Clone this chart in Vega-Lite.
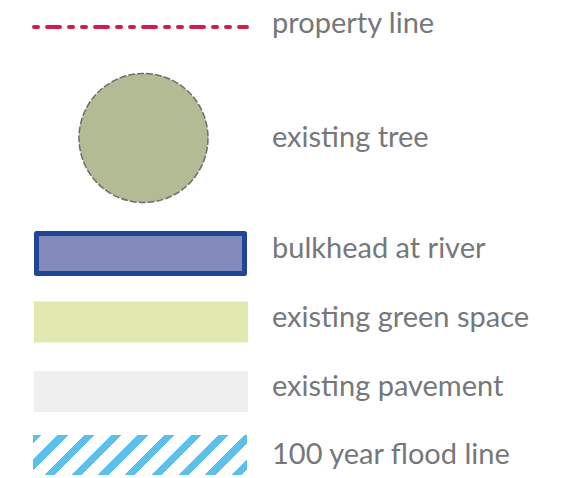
{
  "$schema": "https://vega.github.io/schema/vega-lite/v6.json",
  "width": 569,
  "height": 478,
  "padding": 0,
  "autosize": {"type": "fit", "contains": "padding"},
  "background": "white",
  "config": {"view": {"stroke": null}},
  "datasets": {
    "items": [
      {"order": 0, "label": "property line"},
      {"order": 1, "label": "existing tree"},
      {"order": 2, "label": "bulkhead at river"},
      {"order": 3, "label": "existing green space"},
      {"order": 4, "label": "existing pavement"},
      {"order": 5, "label": "100 year flood line"}
    ]
  },
  "data": {"name": "items"},
  "resolve": {"scale": {"y": "independent"}},
  "layer": [
    {
      "transform": [{"filter": "datum.order == 0"}],
      "mark": {"type": "rule", "stroke": "#d31f48", "strokeWidth": 4, "strokeDash": [4, 9, 13, 9, 4, 9], "strokeCap": "round"},
      "encoding": {
        "x": {"datum": 0.0047, "type": "quantitative", "scale": {"domain": [0, 1], "range": [33, 248], "zero": false, "nice": false}, "axis": null},
        "x2": {"datum": 0.9953},
        "y": {"field": "order", "type": "quantitative", "scale": {"domain": [0, 1, 2, 3, 4, 5], "range": [27, 138, 253.5, 322, 391.5, 455], "zero": false, "nice": false}, "axis": null}
      }
    },
    {
      "transform": [{"filter": "datum.order == 1"}],
      "mark": {"type": "point", "shape": "circle", "size": 16641, "filled": true, "opacity": 1, "fill": "#b3bb94", "stroke": "#6d6d6d", "strokeWidth": 1.5, "strokeDash": [7, 2]},
      "encoding": {
        "x": {"datum": 0.514, "type": "quantitative", "scale": {"domain": [0, 1], "range": [33, 248], "zero": false, "nice": false}, "axis": null},
        "y": {"field": "order", "type": "quantitative", "scale": {"domain": [0, 1, 2, 3, 4, 5], "range": [27, 138, 253.5, 322, 391.5, 455], "zero": false, "nice": false}, "axis": null}
      }
    },
    {
      "transform": [{"filter": "datum.order == 2"}],
      "mark": {"type": "point", "shape": "M-1,-0.1923L1,-0.1923L1,0.1923L-1,0.1923Z", "size": 43264, "filled": true, "opacity": 1, "fill": "#8489bb", "stroke": "#1f4597", "strokeWidth": 5, "strokeJoin": "round"},
      "encoding": {
        "x": {"datum": 0.5, "type": "quantitative", "scale": {"domain": [0, 1], "range": [33, 248], "zero": false, "nice": false}, "axis": null},
        "y": {"field": "order", "type": "quantitative", "scale": {"domain": [0, 1, 2, 3, 4, 5], "range": [27, 138, 253.5, 322, 391.5, 455], "zero": false, "nice": false}, "axis": null}
      }
    },
    {
      "transform": [{"filter": "datum.order == 3"}],
      "mark": {"type": "point", "shape": "M-1,-0.1916L1,-0.1916L1,0.1916L-1,0.1916Z", "size": 45796, "filled": true, "opacity": 1, "fill": "#e1e9b0", "strokeWidth": 0},
      "encoding": {
        "x": {"datum": 0.5023, "type": "quantitative", "scale": {"domain": [0, 1], "range": [33, 248], "zero": false, "nice": false}, "axis": null},
        "y": {"field": "order", "type": "quantitative", "scale": {"domain": [0, 1, 2, 3, 4, 5], "range": [27, 138, 253.5, 322, 391.5, 455], "zero": false, "nice": false}, "axis": null}
      }
    },
    {
      "transform": [{"filter": "datum.order == 4"}],
      "mark": {"type": "point", "shape": "M-1,-0.1916L1,-0.1916L1,0.1916L-1,0.1916Z", "size": 45796, "filled": true, "opacity": 1, "fill": "#efefef", "strokeWidth": 0},
      "encoding": {
        "x": {"datum": 0.5023, "type": "quantitative", "scale": {"domain": [0, 1], "range": [33, 248], "zero": false, "nice": false}, "axis": null},
        "y": {"field": "order", "type": "quantitative", "scale": {"domain": [0, 1, 2, 3, 4, 5], "range": [27, 138, 253.5, 322, 391.5, 455], "zero": false, "nice": false}, "axis": null}
      }
    },
    {
      "transform": [{"filter": "datum.order == 5"}],
      "mark": {
        "type": "point",
        "shape": "M-1,-0.1869L1,-0.1869L1,0.1869L-1,0.1869Z",
        "size": 45796,
        "filled": true,
        "opacity": 1,
        "strokeWidth": 0,
        "fill": {
          "gradient": "linear",
          "x1": 0, "y1": 0, "x2": 1.147, "y2": 0.2144,
          "stops": [
            {"offset": 0, "color": "#5bc0eb"},
            {"offset": 0.033, "color": "#5bc0eb"},
            {"offset": 0.033, "color": "#ffffff"},
            {"offset": 0.098, "color": "#ffffff"},
            {"offset": 0.098, "color": "#5bc0eb"},
            {"offset": 0.138, "color": "#5bc0eb"},
            {"offset": 0.138, "color": "#ffffff"},
            {"offset": 0.2035, "color": "#ffffff"},
            {"offset": 0.2035, "color": "#5bc0eb"},
            {"offset": 0.243, "color": "#5bc0eb"},
            {"offset": 0.243, "color": "#ffffff"},
            {"offset": 0.309, "color": "#ffffff"},
            {"offset": 0.309, "color": "#5bc0eb"},
            {"offset": 0.348, "color": "#5bc0eb"},
            {"offset": 0.348, "color": "#ffffff"},
            {"offset": 0.413, "color": "#ffffff"},
            {"offset": 0.413, "color": "#5bc0eb"},
            {"offset": 0.453, "color": "#5bc0eb"},
            {"offset": 0.453, "color": "#ffffff"},
            {"offset": 0.519, "color": "#ffffff"},
            {"offset": 0.519, "color": "#5bc0eb"},
            {"offset": 0.558, "color": "#5bc0eb"},
            {"offset": 0.558, "color": "#ffffff"},
            {"offset": 0.624, "color": "#ffffff"},
            {"offset": 0.624, "color": "#5bc0eb"},
            {"offset": 0.663, "color": "#5bc0eb"},
            {"offset": 0.663, "color": "#ffffff"},
            {"offset": 0.729, "color": "#ffffff"},
            {"offset": 0.729, "color": "#5bc0eb"},
            {"offset": 0.769, "color": "#5bc0eb"},
            {"offset": 0.769, "color": "#ffffff"},
            {"offset": 0.834, "color": "#ffffff"},
            {"offset": 0.834, "color": "#5bc0eb"},
            {"offset": 0.874, "color": "#5bc0eb"},
            {"offset": 0.874, "color": "#ffffff"},
            {"offset": 0.939, "color": "#ffffff"},
            {"offset": 0.939, "color": "#5bc0eb"},
            {"offset": 0.979, "color": "#5bc0eb"},
            {"offset": 0.979, "color": "#ffffff"},
            {"offset": 1, "color": "#ffffff"}
          ]
        }
      },
      "encoding": {
        "x": {"datum": 0.4977, "type": "quantitative", "scale": {"domain": [0, 1], "range": [33, 248], "zero": false, "nice": false}, "axis": null},
        "y": {"field": "order", "type": "quantitative", "scale": {"domain": [0, 1, 2, 3, 4, 5], "range": [27, 138, 253.5, 322, 391.5, 455], "zero": false, "nice": false}, "axis": null}
      }
    },
    {
      "mark": {"type": "text", "align": "left", "baseline": "alphabetic", "font": "Lato", "fontSize": 29, "fill": "#76777b", "dx": 24},
      "encoding": {
        "x": {"datum": 1, "type": "quantitative", "scale": {"domain": [0, 1], "range": [33, 248], "zero": false, "nice": false}, "axis": null},
        "y": {"field": "order", "type": "quantitative", "scale": {"domain": [0, 1, 2, 3, 4, 5], "range": [33, 147, 258, 327, 396, 464], "zero": false, "nice": false}, "axis": null},
        "text": {"field": "label", "type": "nominal"}
      }
    }
  ]
}
